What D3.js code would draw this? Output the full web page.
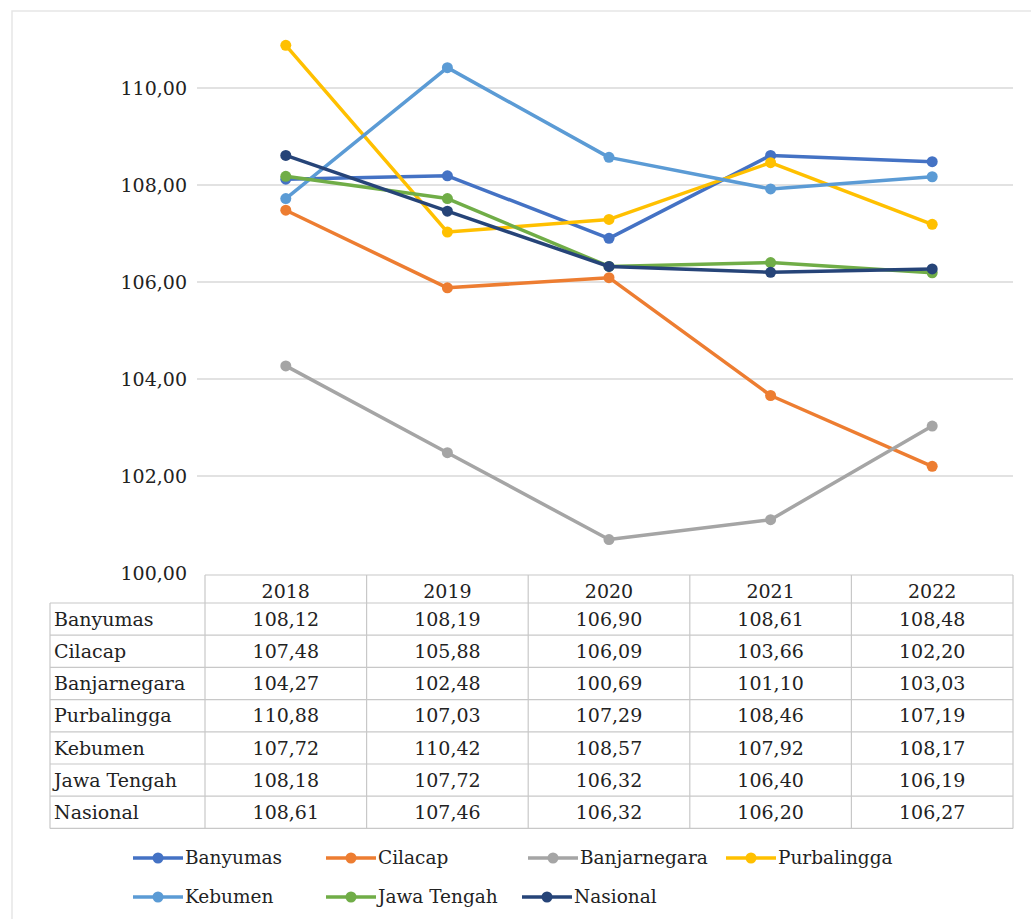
<!DOCTYPE html>
<html>
<head>
<meta charset="utf-8">
<script src="https://cdn.jsdelivr.net/npm/d3@7"></script>
<style>
  html, body { margin: 0; padding: 0; background: #fff; }
  svg { display: block; }
  text { font-family: "DejaVu Serif", "Liberation Serif", serif; fill: #222; }
</style>
</head>
<body>
<svg id="chart" width="1031" height="919"></svg>
<script>
const years = ["2018", "2019", "2020", "2021", "2022"];
const seriesNames = ["Banyumas", "Cilacap", "Banjarnegara", "Purbalingga", "Kebumen", "Jawa Tengah", "Nasional"];
const banyumas     = [108.12, 108.19, 106.90, 108.61, 108.48];
const cilacap      = [107.48, 105.88, 106.09, 103.66, 102.20];
const banjarnegara = [104.27, 102.48, 100.69, 101.10, 103.03];
const purbalingga  = [110.88, 107.03, 107.29, 108.46, 107.19];
const kebumen      = [107.72, 110.42, 108.57, 107.92, 108.17];
const jawaTengah   = [108.18, 107.72, 106.32, 106.40, 106.19];
const nasional     = [108.61, 107.46, 106.32, 106.20, 106.27];
const yTicks = [100, 102, 104, 106, 108, 110];
const colors = ["#4472C4", "#ED7D31", "#A5A5A5", "#FFC000", "#5B9BD5", "#70AD47", "#264478"];

const seriesValues = [banyumas, cilacap, banjarnegara, purbalingga, kebumen, jawaTengah, nasional];
const series = seriesNames.map((n, i) => ({ name: n, values: seriesValues[i], color: colors[i] }));

const svg = d3.select("#chart");
const fmt = v => d3.format(".2f")(v).replace(".", ",");

// outer faint frame
svg.append("rect").attr("x", 12).attr("y", 11).attr("width", 1030).attr("height", 920)
  .attr("fill", "none").attr("stroke", "#e6e6e6").attr("stroke-width", 1.5);

const plotLeft = 205, plotRight = 1013, y100 = 573, y110 = 88;
const x = d3.scaleBand().domain(years).range([plotLeft, plotRight]);
const y = d3.scaleLinear().domain([100, 110]).range([y100, y110]);

// gridlines
svg.append("g").selectAll("line").data(yTicks.filter(t => t !== 100)).join("line")
  .attr("x1", plotLeft - 8).attr("x2", plotRight)
  .attr("y1", d => y(d)).attr("y2", d => y(d))
  .attr("stroke", "#d9d9d9").attr("stroke-width", 1.3);

// y axis labels
const yAxis = d3.axisLeft(y).tickValues(yTicks).tickFormat(fmt).tickSize(0).tickPadding(0);
const ya = svg.append("g").attr("transform", `translate(187,0)`).call(yAxis);
ya.select(".domain").remove();
ya.selectAll("text").attr("font-family", "DejaVu Serif").attr("font-size", 19).attr("fill", "#333").attr("dy", "0.35em");

// lines
const line = d3.line().x((d, i) => x(years[i]) + x.bandwidth() / 2).y(d => y(d));
const g = svg.append("g");
series.forEach(s => {
  g.append("path").datum(s.values).attr("d", line)
    .attr("fill", "none").attr("stroke", s.color).attr("stroke-width", 3.5)
    .attr("stroke-linejoin", "round").attr("stroke-linecap", "round");
  g.selectAll(null).data(s.values).join("circle")
    .attr("cx", (d, i) => x(years[i]) + x.bandwidth() / 2).attr("cy", d => y(d))
    .attr("r", 5.5).attr("fill", s.color);
});

// data table
const tableLeft = 50, headerTop = 575, rowH = 32.2;
const firstRowTop = 603;
const tableBottom = firstRowTop + rowH * series.length;
const tg = svg.append("g");
const gridStroke = "#c8c8c8";
tg.append("line").attr("x1", plotLeft).attr("x2", plotRight).attr("y1", headerTop).attr("y2", headerTop)
  .attr("stroke", gridStroke).attr("stroke-width", 1.2);
d3.range(series.length + 1).forEach(i => {
  tg.append("line").attr("x1", tableLeft).attr("x2", plotRight)
    .attr("y1", firstRowTop + i * rowH).attr("y2", firstRowTop + i * rowH)
    .attr("stroke", gridStroke).attr("stroke-width", 1.2);
});
const xs = years.map(yr => x(yr)).concat([plotRight]);
xs.forEach(xx => {
  tg.append("line").attr("x1", xx).attr("x2", xx).attr("y1", headerTop).attr("y2", tableBottom)
    .attr("stroke", gridStroke).attr("stroke-width", 1.2);
});
tg.append("line").attr("x1", tableLeft).attr("x2", tableLeft).attr("y1", firstRowTop).attr("y2", tableBottom)
  .attr("stroke", gridStroke).attr("stroke-width", 1.2);
tg.selectAll("text.hdr").data(years).join("text").attr("class", "hdr")
  .attr("x", d => x(d) + x.bandwidth() / 2).attr("y", (headerTop + firstRowTop) / 2 + 2)
  .attr("dy", "0.35em").attr("text-anchor", "middle").attr("font-size", 19).attr("fill", "#333").text(d => d);
series.forEach((s, r) => {
  const cy = firstRowTop + r * rowH + rowH / 2;
  tg.append("text").attr("x", tableLeft + 4).attr("y", cy).attr("dy", "0.35em")
    .attr("font-size", 19).attr("fill", "#222").text(s.name);
  s.values.forEach((v, i) => {
    tg.append("text").attr("x", x(years[i]) + x.bandwidth() / 2).attr("y", cy).attr("dy", "0.35em")
      .attr("text-anchor", "middle").attr("font-size", 19).attr("fill", "#333").text(fmt(v));
  });
});

// legend
const legendPos = [
  [133, 858], [326, 858], [528, 858], [726, 858],
  [133, 897], [326, 897], [522, 897]
];
const lg = svg.append("g");
series.forEach((s, i) => {
  const [lx, ly] = legendPos[i];
  lg.append("line").attr("x1", lx).attr("x2", lx + 50).attr("y1", ly).attr("y2", ly)
    .attr("stroke", s.color).attr("stroke-width", 3.5);
  lg.append("circle").attr("cx", lx + 25).attr("cy", ly).attr("r", 5.5).attr("fill", s.color);
  lg.append("text").attr("x", lx + 52).attr("y", ly).attr("dy", "0.35em")
    .attr("font-size", 18.5).attr("fill", "#222").text(s.name);
});
</script>
</body>
</html>
